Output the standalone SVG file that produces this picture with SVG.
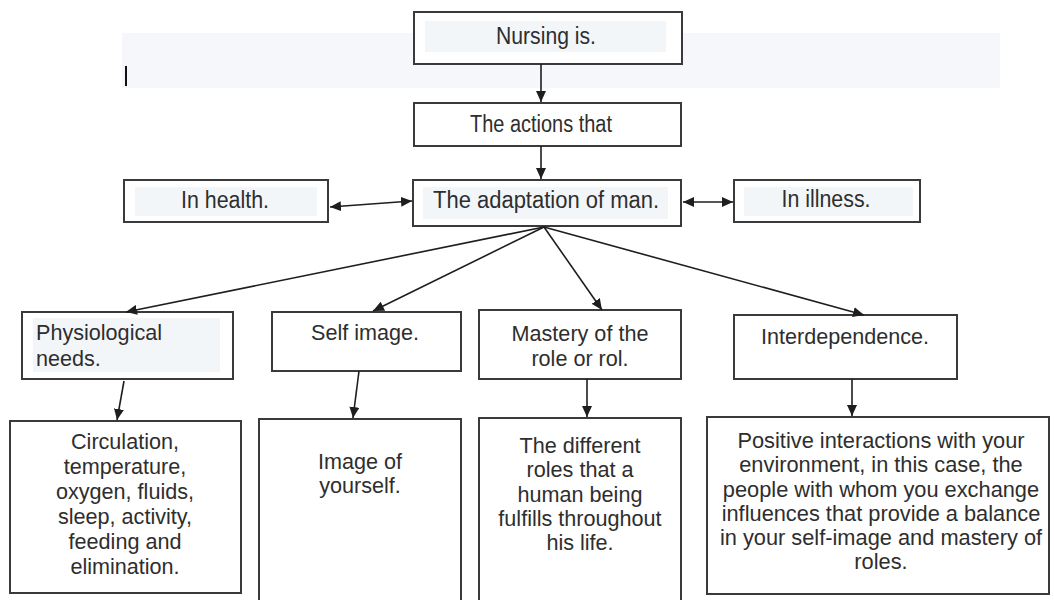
<svg xmlns="http://www.w3.org/2000/svg" width="1054" height="600" viewBox="0 0 1054 600">
<defs>
<marker id="ah" markerUnits="userSpaceOnUse" markerWidth="12" markerHeight="10" refX="11" refY="5" orient="auto-start-reverse">
<path d="M0,0 L11,5 L0,10 z" fill="#1e1e1e"/>
</marker>
<style>
.box{fill:#ffffff;stroke:#3a3a3a;stroke-width:2}
.hl{fill:#f3f6f9}
.t{font-family:"Liberation Sans",Arial,sans-serif;font-size:21.6px;fill:#2e2e2e}
.tb{font-family:"Liberation Sans",Arial,sans-serif;font-size:21.8px;fill:#2e2e2e}
.tt{font-family:"Liberation Sans",Arial,sans-serif;font-size:23px;fill:#2e2e2e}
.c{text-anchor:middle}
.ln{stroke:#1e1e1e;stroke-width:1.6;fill:none;marker-end:url(#ah)}
.dl{stroke:#1e1e1e;stroke-width:1.6;fill:none;marker-end:url(#ah);marker-start:url(#ah)}
</style>
</defs>
<rect width="1054" height="600" fill="#ffffff"/>
<rect x="122" y="33" width="878" height="55" fill="#f5f7fa"/>
<rect x="125" y="66" width="2" height="20" fill="#111"/>

<g id="nursing">
<rect class="box" x="414" y="12" width="268" height="52"/>
<rect class="hl" x="425" y="21" width="241" height="31"/>
<text class="tt c" x="546" y="44" textLength="100" lengthAdjust="spacingAndGlyphs">Nursing is.</text>
</g>
<g id="actions">
<rect class="box" x="414" y="103" width="267" height="43"/>
<text class="tt c" x="541" y="132" textLength="142" lengthAdjust="spacingAndGlyphs">The actions that</text>
</g>
<g id="adaptation">
<rect class="box" x="413" y="180" width="268" height="46"/>
<rect class="hl" x="423" y="187" width="245" height="32"/>
<text class="tt c" x="546" y="208" textLength="226" lengthAdjust="spacingAndGlyphs">The adaptation of man.</text>
</g>
<g id="health">
<rect class="box" x="124" y="180" width="204" height="42"/>
<rect class="hl" x="135" y="187" width="182" height="29"/>
<text class="tt c" x="225" y="208" textLength="88" lengthAdjust="spacingAndGlyphs">In health.</text>
</g>
<g id="illness">
<rect class="box" x="734" y="180" width="186" height="42"/>
<rect class="hl" x="744" y="187" width="169" height="29"/>
<text class="tt c" x="826" y="207" textLength="89" lengthAdjust="spacingAndGlyphs">In illness.</text>
</g>

<g id="physiological">
<rect class="box" x="22" y="312" width="211" height="67"/>
<rect class="hl" x="33" y="318" width="187" height="54"/>
<text class="t" x="36" y="340">Physiological</text>
<text class="t" x="36" y="366">needs.</text>
</g>
<g id="selfimage">
<rect class="box" x="272" y="312" width="189" height="59"/>
<text class="t c" x="365" y="340">Self image.</text>
</g>
<g id="mastery">
<rect class="box" x="479" y="310" width="202" height="69"/>
<text class="t c" x="580" y="341">Mastery of the</text>
<text class="t c" x="580" y="366">role or rol.</text>
</g>
<g id="interdependence">
<rect class="box" x="734" y="315" width="223" height="64"/>
<text class="t c" x="845" y="344">Interdependence.</text>
</g>

<g id="circulation">
<rect class="box" x="10" y="421" width="231" height="172"/>
<text class="t c" x="125" y="449">Circulation,</text>
<text class="t c" x="125" y="474">temperature,</text>
<text class="t c" x="125" y="499">oxygen, fluids,</text>
<text class="t c" x="125" y="524">sleep, activity,</text>
<text class="t c" x="125" y="549">feeding and</text>
<text class="t c" x="125" y="574">elimination.</text>
</g>
<g id="imageof">
<rect class="box" x="259" y="419" width="202" height="190"/>
<text class="t c" x="360" y="469">Image of</text>
<text class="t c" x="360" y="493">yourself.</text>
</g>
<g id="roles">
<rect class="box" x="479" y="418" width="202" height="190"/>
<text class="t c" x="580" y="453">The different</text>
<text class="t c" x="580" y="477">roles that a</text>
<text class="t c" x="580" y="502">human being</text>
<text class="t c" x="580" y="526">fulfills throughout</text>
<text class="t c" x="580" y="550">his life.</text>
</g>
<g id="positive">
<rect class="box" x="707" y="417" width="342" height="177"/>
<text class="tb c" x="881" y="448">Positive interactions with your</text>
<text class="tb c" x="881" y="472">environment, in this case, the</text>
<text class="tb c" x="881" y="497">people with whom you exchange</text>
<text class="tb c" x="881" y="521">influences that provide a balance</text>
<text class="tb c" x="881" y="545">in your self-image and mastery of</text>
<text class="tb c" x="881" y="569">roles.</text>
</g>

<g id="connectors">
<line class="ln" x1="541" y1="64" x2="541" y2="102"/>
<line class="ln" x1="541" y1="146" x2="541" y2="179"/>
<line class="dl" x1="330" y1="207" x2="412" y2="201"/>
<line class="dl" x1="683" y1="202" x2="733" y2="202"/>
<line class="ln" x1="544" y1="227" x2="126" y2="312"/>
<line class="ln" x1="544" y1="227" x2="373" y2="311"/>
<line class="ln" x1="544" y1="227" x2="602" y2="310"/>
<line class="ln" x1="544" y1="227" x2="864" y2="315"/>
<line class="ln" x1="124" y1="381" x2="117" y2="420"/>
<line class="ln" x1="359" y1="371" x2="353" y2="418"/>
<line class="ln" x1="587" y1="379" x2="587" y2="417"/>
<line class="ln" x1="852" y1="379" x2="852" y2="416"/>
</g>
</svg>
